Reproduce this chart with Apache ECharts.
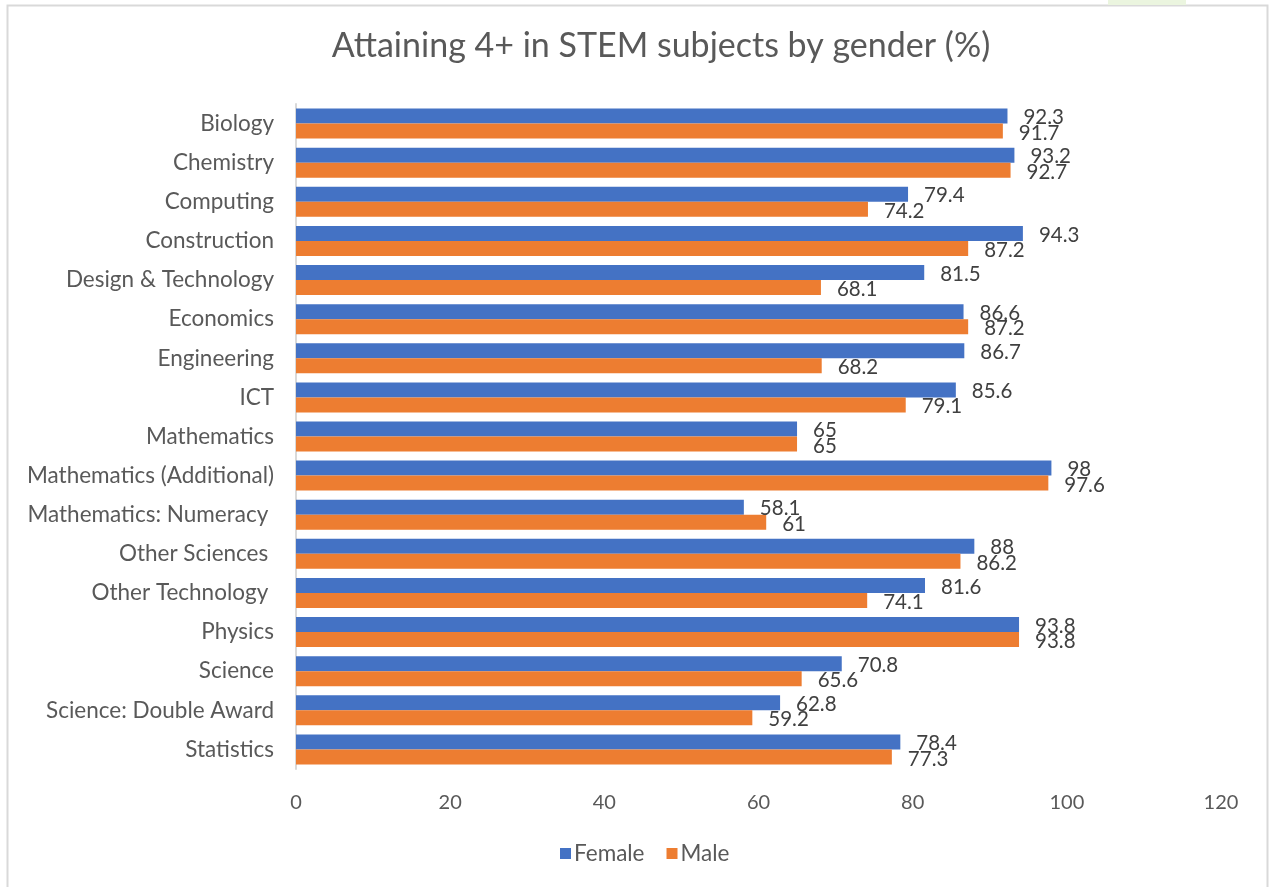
<!DOCTYPE html>
<html>
<head>
<meta charset="utf-8">
<script src="https://cdn.jsdelivr.net/npm/echarts@6/dist/echarts.min.js"></script>
<style>
html,body{margin:0;padding:0;background:#fff;}
#c{width:1270px;height:887px;}
</style>
</head>
<body>
<div id="c"></div>
<script>
const categories = ["Biology","Chemistry","Computing","Construction","Design & Technology","Economics","Engineering","ICT","Mathematics","Mathematics (Additional)","Mathematics: Numeracy ","Other Sciences ","Other Technology ","Physics","Science","Science: Double Award","Statistics"];
const female = [92.3,93.2,79.4,94.3,81.5,86.6,86.7,85.6,65,98,58.1,88,81.6,93.8,70.8,62.8,78.4];
const male = [91.7,92.7,74.2,87.2,68.1,87.2,68.2,79.1,65,97.6,61,86.2,74.1,93.8,65.6,59.2,77.3];
const xTicks = [0,20,40,60,80,100,120];

const FONT = 'Lato, "Open Sans", sans-serif';
const chart = echarts.init(document.getElementById('c'), null, {renderer:'canvas'});
chart.setOption({
  backgroundColor:'#fff',
  animation:false,
  textStyle:{fontFamily:FONT},
  title:{
    text:'Attaining 4+ in STEM subjects by gender (%)',
    left:656, top:24, textAlign:'center',
    textStyle:{fontSize:34, fontWeight:'normal', color:'#595959', fontFamily:FONT}
  },
  graphic:[
    {type:'rect', shape:{x:7.5,y:5.5,width:1260,height:890}, style:{fill:'none', stroke:'#d9d9d9', lineWidth:2}, z:-1},
    {type:'rect', shape:{x:1108,y:0,width:78,height:5}, style:{fill:'#ebf5df'}, z:-1}
  ],
  legend:{
    data:['Female','Male'],
    bottom:17,
    left:555,
    itemWidth:11, itemHeight:11, itemGap:22,
    icon:'rect',
    textStyle:{fontSize:22.5, color:'#595959', fontFamily:FONT, padding:[0,0,0,-2]}
  },
  grid:{left:296, right:49, top:104, bottom:118, containLabel:false},
  xAxis:{
    type:'value', min:0, max:120, interval:20,
    axisLine:{show:false}, axisTick:{show:false},
    splitLine:{show:false},
    axisLabel:{fontSize:20, color:'#595959', margin:24, fontFamily:FONT,
      formatter:function(v){return xTicks.indexOf(v)>=0?String(v):'';}}
  },
  yAxis:{
    type:'category', data:categories, inverse:true,
    axisLine:{show:true, lineStyle:{color:'#d9d9d9', width:2}},
    axisTick:{show:false},
    axisLabel:{fontSize:22.5, color:'#595959', margin:22, fontFamily:FONT}
  },
  series:[
    {name:'Female', type:'bar', data:female, barWidth:15, barGap:'0%',
     itemStyle:{color:'#4472c4'},
     label:{show:true, position:'right', distance:16, offset:[0,1.5], fontSize:20.5, color:'#404040', fontFamily:FONT}},
    {name:'Male', type:'bar', data:male, barWidth:15, barGap:'0%',
     itemStyle:{color:'#ed7d31'},
     label:{show:true, position:'right', distance:16, offset:[0,2], fontSize:20.5, color:'#404040', fontFamily:FONT}}
  ]
});
</script>
</body>
</html>
